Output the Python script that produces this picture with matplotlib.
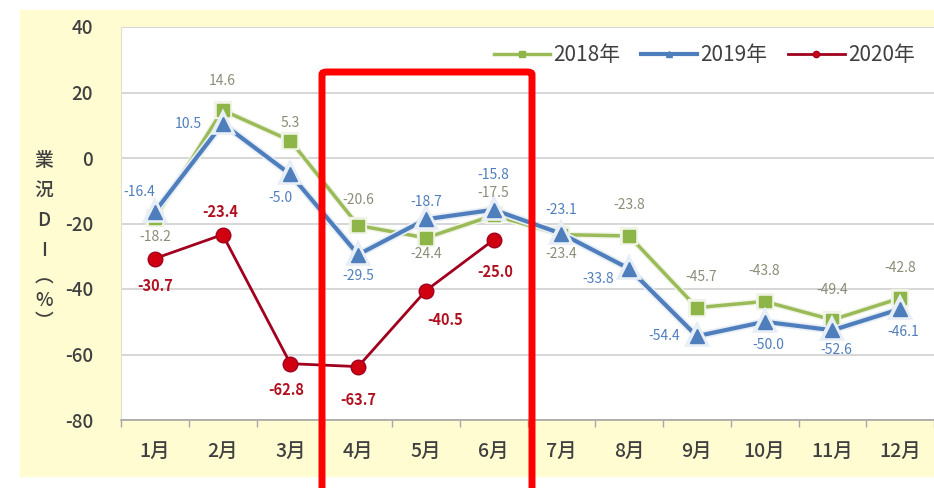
import matplotlib
matplotlib.use("Agg")
import matplotlib.pyplot as plt
from matplotlib.patches import Rectangle, FancyBboxPatch
from matplotlib.lines import Line2D
import matplotlib.patheffects as pe
import numpy as np

plt.rcParams['font.family'] = ['Noto Sans CJK JP', 'DejaVu Sans']

months = ['1月', '2月', '3月', '4月', '5月', '6月', '7月', '8月', '9月', '10月', '11月', '12月']
y2018 = [-18.2, 14.6, 5.3, -20.6, -24.4, -17.5, -23.4, -23.8, -45.7, -43.8, -49.4, -42.8]
y2019 = [-16.4, 10.5, -5.0, -29.5, -18.7, -15.8, -23.1, -33.8, -54.4, -50.0, -52.6, -46.1]
y2020 = [-30.7, -23.4, -62.8, -63.7, -40.5, -25.0]
yticks = [40, 20, 0, -20, -40, -60, -80]
series_names = ['2018年', '2019年', '2020年']
ylabel_chars = ['業', '況', 'D', 'I', '︵', '%', '︶']

# label offsets in pixels (dx, dy)
off2018 = [(0, -19), (0, 29), (0, 18), (0, 25), (0, -16), (0, 22), (0, -19), (0, 31), (4, 31), (0, 30), (0, 30), (0, 30)]
off2019 = [(-16, 20), (-34, 0), (-10, -24), (0, -21), (0, 17), (0, 35), (0, 24), (-31, -10), (-33, 0), (4, -23), (4, -20), (3, -23)]
off2020 = [(0, -27), (-2, 23), (-4, -26), (0, -33), (19, -29), (2, -32)]

W, H = 934, 488
fig = plt.figure(figsize=(W / 100, H / 100), dpi=100)
fig.patch.set_facecolor('white')
fig.patches.append(Rectangle((20 / W, (H - 477) / H), (W - 20) / W, (477 - 10) / H,
                             transform=fig.transFigure, facecolor='#FFFCD2', edgecolor='none', zorder=-10))

ax_left, ax_right, ax_top, ax_bot = 121, 934, 27, 420
ax = fig.add_axes([ax_left / W, (H - ax_bot) / H, (ax_right - ax_left) / W, (ax_bot - ax_top) / H])
ax.set_zorder(1)
ax.set_facecolor('white')

x = np.arange(len(months))
cw = 68.2
ax.set_xlim(-0.5, -0.5 + (ax_right - ax_left) / cw)
ax.set_ylim(-80, 40)

ax.set_yticks(yticks)
ax.set_yticklabels([str(t) for t in yticks], fontweight='medium')
ax.yaxis.grid(True, color='#CFCFCF', linewidth=1.2)
ax.set_axisbelow(True)
ax.tick_params(axis='y', length=0, pad=20, labelsize=13.5, labelcolor='#404040')
ax.set_xticks(x)
ax.set_xticklabels(months, fontweight='medium')
ax.set_xticks(np.arange(-0.5, 12, 1), minor=True)
ax.tick_params(axis='x', which='major', length=0, pad=16, labelsize=14, labelcolor='#404040')
ax.tick_params(axis='x', which='minor', length=5, color='#A6A6A6', width=1)
for s in ['top', 'right']:
    ax.spines[s].set_visible(False)
ax.spines['left'].set_color('#E0E0D0')
ax.spines['bottom'].set_color('#A6A6A6')
ax.spines['bottom'].set_linewidth(1.2)

halo = [pe.Stroke(linewidth=5.5, foreground='#E8EEF6'), pe.Normal()]
ax.plot(x, y2018, color='#9BBB59', lw=2.5, marker='s', ms=8.5, mfc='#8DB548', mec='#8DB548', zorder=3,
        path_effects=[pe.Stroke(linewidth=4.5, foreground='#F0F4E6'), pe.Normal()])
ax.plot(x, y2019, color='#4F7EBD', lw=3, marker='^', ms=10, mfc='#4F7EBD', mec='#4F7EBD', zorder=4,
        path_effects=halo)
x20 = x[:len(y2020)]
ax.plot(x20, y2020, color='#A0001E', lw=2, marker='o', ms=10.5, mfc='#D00010', mec='#A0001E', zorder=5)

for xi, v, (dx, dy) in zip(x, y2018, off2018):
    ax.annotate(f'{v:.1f}', (xi, v), xytext=(dx, dy), textcoords='offset pixels', ha='center', va='center',
                fontsize=10, color='#8C8C78', zorder=6)
for xi, v, (dx, dy) in zip(x, y2019, off2019):
    ax.annotate(f'{v:.1f}', (xi, v), xytext=(dx, dy), textcoords='offset pixels', ha='center', va='center',
                fontsize=10, color='#4F7EBD', zorder=6)
for xi, v, (dx, dy) in zip(x20, y2020, off2020):
    ax.annotate(f'{v:.1f}', (xi, v), xytext=(dx, dy), textcoords='offset pixels', ha='center', va='center',
                fontsize=10.5, color='#B01020', fontweight='bold', zorder=6)

handles = [
    Line2D([], [], color='#9BBB59', lw=2.5, marker='s', ms=4, mfc='#8DB548', mec='#8DB548'),
    Line2D([], [], color='#4F7EBD', lw=3, marker='^', ms=4, mfc='#4F7EBD', mec='#4F7EBD'),
    Line2D([], [], color='#A0001E', lw=2, marker='o', ms=4.5, mfc='#D00010', mec='#A0001E'),
]
leg = ax.legend(handles, series_names, loc='center right', bbox_to_anchor=(925 / W, (H - 55) / H),
                bbox_transform=fig.transFigure,
                ncol=3, frameon=False, fontsize=15, handlelength=2.7, handletextpad=0.15,
                columnspacing=1.0, borderpad=0, labelcolor='#404040')

ylab_y = [160, 190, 220, 250, 277, 300, 322]
for ch, yy in zip(ylabel_chars, ylab_y):
    fig.text(44 / W, (H - yy) / H, ch, ha='center', va='center', fontsize=13.5, color='#404040',
             fontweight='medium')

box = FancyBboxPatch((322 / W, -30 / H), (532 - 322) / W, (H - 72 + 30) / H,
                     boxstyle='round,pad=0,rounding_size=0.005', transform=fig.transFigure,
                     facecolor='none', edgecolor='#FF0000', linewidth=5, zorder=10, clip_on=False)
fig.patches.append(box)

fig.savefig('out.png', dpi=100)
